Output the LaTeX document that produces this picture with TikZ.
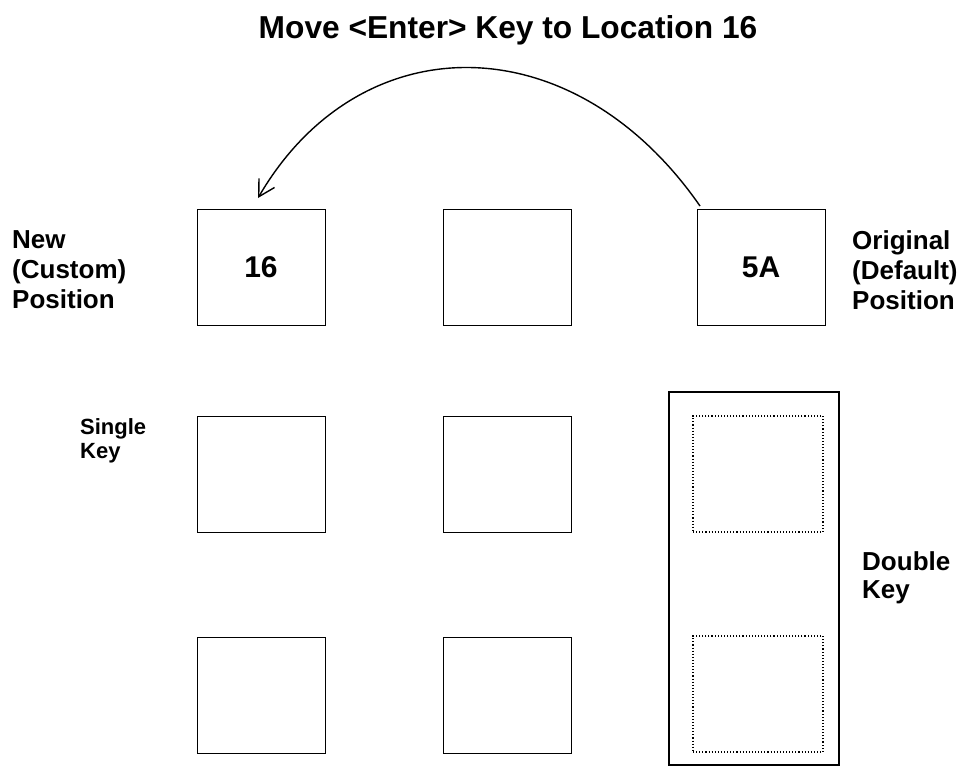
\documentclass[tikz,border=0pt]{standalone}
\usepackage{fontspec}
\setmainfont{Liberation Sans}
\usetikzlibrary{arrows.meta}
\begin{document}
\begin{tikzpicture}[x=1pt,y=-1pt,
  keybox/.style={draw,line width=1pt,minimum width=128pt,minimum height=116pt,inner sep=0pt,font=\bfseries\fontsize{30}{34}\selectfont},
  dotbox/.style={draw,line width=1.1pt,dash pattern=on 1.1pt off 2pt,minimum width=130pt,minimum height=116pt,inner sep=0pt},
  lbl/.style={align=left,inner sep=0pt,anchor=north west,font=\bfseries\fontsize{26}{30}\selectfont},
  slbl/.style={align=left,inner sep=0pt,anchor=north west,font=\bfseries\fontsize{22}{24}\selectfont}]
\useasboundingbox[fill=white] (0,0) rectangle (963,768);
\node[font=\bfseries\fontsize{31.7}{36}\selectfont,inner sep=0pt] (title) at (508,30) {Move <Enter> Key to Location 16};
\node[keybox] (k16) at (261,267) {16};
\node[keybox] (kmid) at (507,267) {};
\node[keybox] (k5a) at (761,267) {5A};
\node[keybox] (s1) at (261,474) {};
\node[keybox] (s2) at (507,474) {};
\node[keybox] (s3) at (261,695) {};
\node[keybox] (s4) at (507,695) {};
\node[draw,line width=1.5pt,minimum width=170pt,minimum height=373pt,inner sep=0pt] (dbl) at (754,578.5) {};
\node[dotbox] (d1) at (758,474) {};
\node[dotbox] (d2) at (758,694) {};
\node[lbl] (newpos) at (12,230) {New\\(Custom)\\Position};
\node[lbl] (origpos) at (852,230) {Original\\(Default)\\Position};
\node[slbl] (single) at (80,418) {Single\\Key};
\node[lbl,font=\bfseries\fontsize{26}{28}\selectfont] (double) at (862,551) {Double\\Key};
\coordinate (tip) at (258,198);
\draw[line width=1.4pt,-{Straight Barb[length=16pt,width=18pt,line width=1.4pt]}]
  (700,206) .. controls (573,23) and (360,23) .. (tip);
\end{tikzpicture}
\end{document}
